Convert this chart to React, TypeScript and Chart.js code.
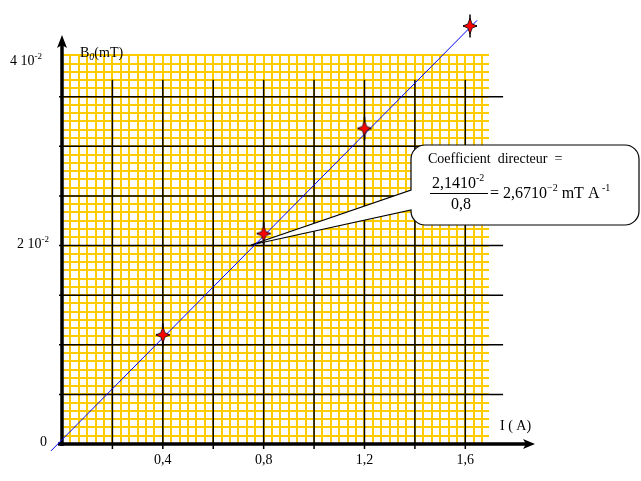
import React, { useEffect, useRef } from 'react';
import { Chart, registerables } from 'chart.js';

Chart.register(...registerables);

// ---- data ----
const currentA = [0.4, 0.8, 1.2, 1.62];
const fieldmT = [0.011, 0.0212, 0.0318, 0.0421];
const fitLineX = [-0.044, 1.647];
const fitLineY = [-0.0007, 0.0427];
const xTickLabels = ['0,4', '0,8', '1,2', '1,6'];
const xMax = 1.694;
const yMax = 0.0392;
const xMajorStep = 0.2;
const yMajorStep = 0.005;
const minorDiv = 6;
const blackTopValue = 0.0367;
const blackRightValue = 1.75;

const FONT = '"Liberation Serif", "Times New Roman", serif';

type Part = { t: string; size: number; dy?: number; italic?: boolean };

function drawParts(ctx: CanvasRenderingContext2D, parts: Part[], x: number, y: number) {
  let cx = x;
  ctx.textAlign = 'left';
  ctx.textBaseline = 'alphabetic';
  ctx.fillStyle = '#000';
  for (const p of parts) {
    ctx.font = `${p.italic ? 'italic ' : ''}${p.size}px ${FONT}`;
    ctx.fillText(p.t, cx, y + (p.dy || 0));
    cx += ctx.measureText(p.t).width;
  }
  return cx;
}

function makeMarker(): HTMLCanvasElement {
  const c = document.createElement('canvas');
  c.width = 28;
  c.height = 28;
  const g = c.getContext('2d')!;
  g.strokeStyle = '#000';
  g.lineWidth = 1.5;
  g.beginPath();
  g.moveTo(14, 2.5);
  g.lineTo(14, 25.5);
  g.moveTo(7, 14);
  g.lineTo(21, 14);
  g.stroke();
  g.beginPath();
  const cx = 14, cy = 14;
  const outerX = 7, outerY = 8, inner = 3;
  for (let i = 0; i < 8; i++) {
    const a = -Math.PI / 2 + (i * Math.PI) / 4;
    const rx = i % 2 === 0 ? outerX : inner;
    const ry = i % 2 === 0 ? outerY : inner;
    const px = cx + Math.cos(a) * rx;
    const py = cy + Math.sin(a) * ry;
    if (i === 0) g.moveTo(px, py);
    else g.lineTo(px, py);
  }
  g.closePath();
  g.fillStyle = '#FF0000';
  g.fill();
  g.lineWidth = 0.8;
  g.strokeStyle = '#000';
  g.stroke();
  return c;
}

let markerImage: HTMLCanvasElement | null = null;

const paperPlugin = {
  id: 'paper',
  beforeDatasetsDraw(chart: any) {
    const ctx: CanvasRenderingContext2D = chart.ctx;
    const xs = chart.scales.x;
    const ys = chart.scales.y;
    const area = chart.chartArea;
    ctx.save();
    // black major lines
    ctx.strokeStyle = '#000';
    ctx.lineWidth = 1.5;
    ctx.beginPath();
    for (let k = 1; k * xMajorStep <= xMax; k++) {
      const x = xs.getPixelForValue(k * xMajorStep);
      ctx.moveTo(x, ys.getPixelForValue(blackTopValue));
      ctx.lineTo(x, area.bottom + 5);
    }
    for (let k = 1; k * yMajorStep <= yMax; k++) {
      const y = ys.getPixelForValue(k * yMajorStep);
      ctx.moveTo(area.left - 3, y);
      ctx.lineTo(xs.getPixelForValue(blackRightValue), y);
    }
    ctx.stroke();

    // axes
    const ox = xs.getPixelForValue(0);
    const oy = ys.getPixelForValue(0);
    ctx.lineWidth = 3.5;
    ctx.beginPath();
    ctx.moveTo(ox, oy + 2);
    ctx.lineTo(ox, 42);
    ctx.moveTo(ox - 4, oy);
    ctx.lineTo(528, oy);
    ctx.stroke();
    ctx.fillStyle = '#000';
    ctx.beginPath();
    ctx.moveTo(ox, 35);
    ctx.lineTo(ox - 5, 48);
    ctx.lineTo(ox, 45);
    ctx.lineTo(ox + 5, 48);
    ctx.closePath();
    ctx.fill();
    ctx.beginPath();
    ctx.moveTo(535, oy);
    ctx.lineTo(523, oy - 5);
    ctx.lineTo(526, oy);
    ctx.lineTo(523, oy + 5);
    ctx.closePath();
    ctx.fill();

    // callout bubble
    const L = 411, T = 145, R = 639, B = 225, r = 14;
    ctx.beginPath();
    ctx.moveTo(L, 190);
    ctx.lineTo(L, T + r);
    ctx.arcTo(L, T, L + r, T, r);
    ctx.lineTo(R - r, T);
    ctx.arcTo(R, T, R, T + r, r);
    ctx.lineTo(R, B - r);
    ctx.arcTo(R, B, R - r, B, r);
    ctx.lineTo(L + r, B);
    ctx.arcTo(L, B, L, B - r, r);
    ctx.lineTo(L, 210);
    ctx.lineTo(251, 245);
    ctx.closePath();
    ctx.fillStyle = '#FFFFFF';
    ctx.fill();
    ctx.strokeStyle = '#000';
    ctx.lineWidth = 1.2;
    ctx.stroke();

    // callout text
    drawParts(ctx, [{ t: 'Coefficient  directeur  =', size: 14 }], 428, 163);
    const e = drawParts(ctx, [
      { t: '2,14', size: 16 },
      { t: '10', size: 16 },
      { t: '-2', size: 10, dy: -7 },
    ], 432, 188);
    ctx.lineWidth = 1;
    ctx.beginPath();
    ctx.moveTo(430, 193.5);
    ctx.lineTo(Math.max(488, e + 1), 193.5);
    ctx.stroke();
    drawParts(ctx, [{ t: '0,8', size: 16 }], 451, 209);
    drawParts(ctx, [
      { t: '= 2,67', size: 16 },
      { t: '10', size: 16 },
      { t: '\u22122', size: 10, dy: -7 },
      { t: ' mT A', size: 16 },
      { t: ' -1', size: 10, dy: -7 },
    ], 490, 198);

    ctx.restore();
  },
  afterDatasetsDraw(chart: any) {
    // markers lying outside the chart area are skipped by Chart.js; draw them here
    const ctx: CanvasRenderingContext2D = chart.ctx;
    const area = chart.chartArea;
    const meta = chart.getDatasetMeta(0);
    if (!markerImage) return;
    ctx.save();
    for (const el of meta.data) {
      const { x, y } = el as any;
      const inside = x >= area.left - 1 && x <= area.right + 1 && y >= area.top - 1 && y <= area.bottom + 1;
      if (!inside) {
        ctx.drawImage(markerImage, Math.round(x - markerImage.width / 2), Math.round(y - markerImage.height / 2));
      }
    }
    ctx.restore();
  },
  afterDraw(chart: any) {
    const ctx: CanvasRenderingContext2D = chart.ctx;
    const ys = chart.scales.y;
    ctx.save();
    // y labels
    drawParts(ctx, [{ t: '0', size: 14 }], 40, ys.getPixelForValue(0) + 2);
    drawParts(ctx, [
      { t: '2 10', size: 14 },
      { t: '-2', size: 9, dy: -6 },
    ], 17, ys.getPixelForValue(0.02) + 2.5);
    drawParts(ctx, [
      { t: '4 10', size: 14 },
      { t: '-2', size: 9, dy: -6 },
    ], 10, ys.getPixelForValue(0.04) + 18);
    // axis titles
    drawParts(ctx, [
      { t: 'B', size: 14 },
      { t: '0', size: 10, dy: 3, italic: true },
      { t: '(mT)', size: 14 },
    ], 80, 57);
    drawParts(ctx, [{ t: 'I ( A)', size: 14 }], 500, 430);
    ctx.restore();
  },
};

export default function App() {
  const ref = useRef<HTMLCanvasElement>(null);
  useEffect(() => {
    const canvas = ref.current!;
    markerImage = makeMarker();
    const minorX = xMajorStep / minorDiv;
    const minorY = yMajorStep / minorDiv;
    const chart = new Chart(canvas, {
      type: 'scatter',
      data: {
        datasets: [
          {
            label: 'Mesures',
            data: currentA.map((x, i) => ({ x, y: fieldmT[i] })),
            pointStyle: markerImage as any,
            pointRadius: 8,
            showLine: false,
            clip: false as any,
          },
          {
            label: 'Droite',
            data: fitLineX.map((x, i) => ({ x, y: fitLineY[i] })),
            showLine: true,
            borderColor: '#0000FF',
            borderWidth: 1,
            pointRadius: 0,
            clip: false as any,
          },
        ],
      },
      options: {
        responsive: false,
        animation: false,
        layout: { padding: { left: 0, top: 55, right: 152, bottom: 0 } },
        plugins: { legend: { display: false }, tooltip: { enabled: false } },
        scales: {
          x: {
            type: 'linear',
            min: 0,
            max: xMax,
            afterBuildTicks: (s: any) => {
              const t = [];
              for (let i = 0; i * minorX <= xMax + 1e-9; i++) t.push({ value: i * minorX });
              s.ticks = t;
            },
            afterFit: (s: any) => {
              s.height = 37;
            },
            grid: { color: '#FFCC00', lineWidth: 2, drawTicks: false },
            border: { display: false },
            ticks: {
              autoSkip: false,
              maxRotation: 0,
              minRotation: 0,
              padding: 8,
              color: '#000',
              font: { family: FONT, size: 14 },
              callback: (_v: any, i: number) =>
                i > 0 && i % (2 * minorDiv) === 0 ? xTickLabels[i / (2 * minorDiv) - 1] ?? '' : '',
            },
          },
          y: {
            type: 'linear',
            min: 0,
            max: yMax,
            afterBuildTicks: (s: any) => {
              const t = [];
              for (let i = 0; i * minorY <= yMax + 1e-9; i++) t.push({ value: i * minorY });
              s.ticks = t;
            },
            afterFit: (s: any) => {
              s.width = 62;
            },
            grid: { color: '#FFCC00', lineWidth: 2, drawTicks: false },
            border: { display: false },
            ticks: { display: false },
          },
        },
      },
      plugins: [paperPlugin],
    });
    return () => chart.destroy();
  }, []);
  return (
    <div style={{ position: 'absolute', left: 0, top: 0, width: 641, height: 481, background: '#fff' }}>
      <canvas ref={ref} width={641} height={481} />
    </div>
  );
}
